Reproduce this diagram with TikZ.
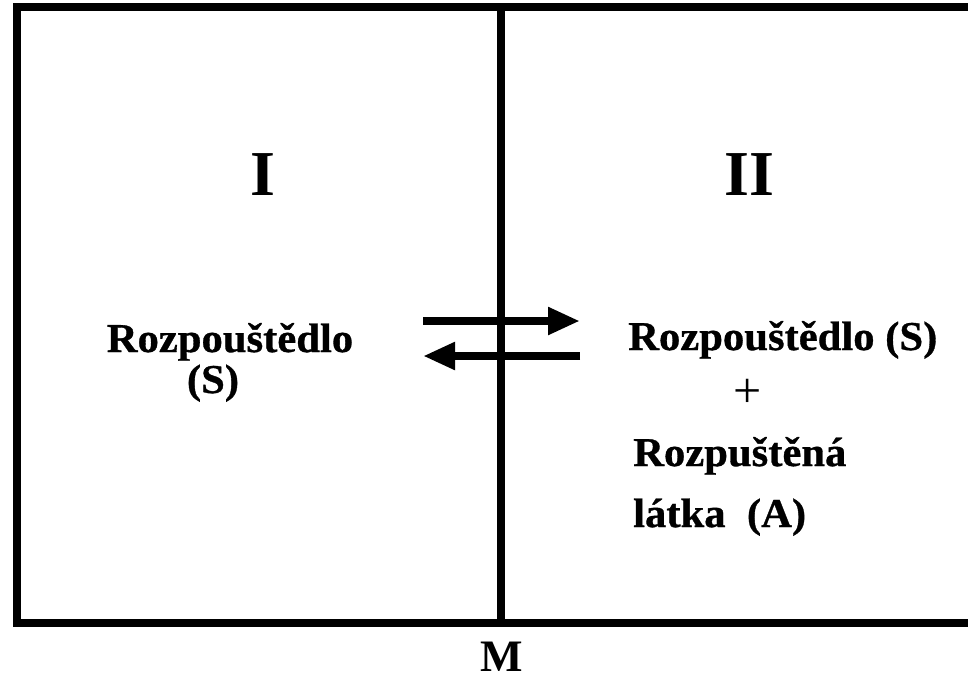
\documentclass[tikz,border=0pt]{standalone}
\usepackage{fontspec}
\setmainfont{Liberation Serif}
\newfontfamily\widefont[FakeStretch=1.04,FakeBold=0.8]{Liberation Serif Bold}
\usetikzlibrary{arrows.meta}

\begin{document}
\begin{tikzpicture}[x=1pt, y=-1pt,
  wall/.style={line width=8.5pt},
  flow/.style={line width=8pt, -{Triangle[length=32pt,width=26pt]}},
  txt/.style={font=\widefont\fontsize{41}{46}\selectfont, inner sep=0pt},
  roman/.style={font=\bfseries\fontsize{64}{70}\selectfont, inner sep=0pt, anchor=base}]
\useasboundingbox (0,0) rectangle (968,678);
\clip (0,0) rectangle (968,678);
% vessel and membrane
\coordinate (tl) at (17,7);
\coordinate (tr) at (995,7);
\coordinate (bl) at (17,623);
\coordinate (br) at (995,623);
\coordinate (mt) at (501,7);
\coordinate (mb) at (501,623);
\draw[wall] (tr) -- (tl) -- (bl) -- (br);
\draw[wall] (mt) -- (mb);
% compartments
\node[roman] (one) at (263,195) {I};
\node[roman] (two) at (749,195) {II};
\node[txt, anchor=base] (solvL) at (230,352) {Rozpouštědlo};
\node[txt, anchor=base] (solvLs) at (213,393) {(S)};
\node[txt, anchor=base west] (solvR) at (628,350) {Rozpouštědlo (S)};
\node[font=\fontsize{50}{56}\selectfont, inner sep=0pt] (plus) at (748,393) {+};
\node[txt, anchor=base west] (solute) at (633,466) {Rozpuštěná};
\node[txt, anchor=base west] (solute2) at (633,527) {látka\ \ (A)};
\node[font=\bfseries\fontsize{45}{50}\selectfont, inner sep=0pt, anchor=base] (memb) at (502,671) {M};
% flows through the membrane
\coordinate (inA) at (423,321);
\coordinate (inB) at (580,321);
\coordinate (outA) at (580,356);
\coordinate (outB) at (423,356);
\draw[flow] (inA) -- (inB);
\draw[flow] (outA) -- (outB);
\end{tikzpicture}
\end{document}
